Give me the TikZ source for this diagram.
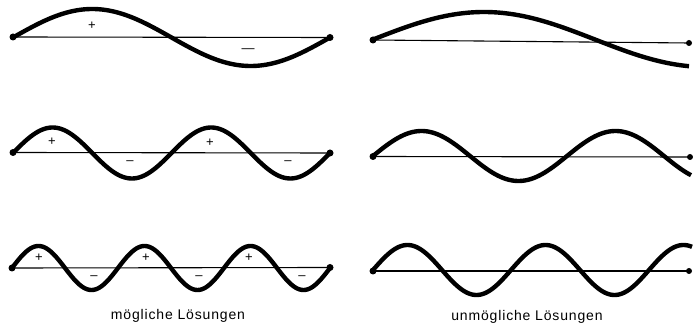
\documentclass[tikz,border=0pt]{standalone}
\usepackage{fontspec}
\setmainfont{Liberation Sans}
\newfontfamily\lblfont[LetterSpace=6]{Liberation Sans}
\begin{document}
\begin{tikzpicture}[x=1pt,y=-1pt,
  wave/.style={line width=4.4pt, line cap=round, line join=round},
  axisline/.style={line width=1.1pt},
  enddot/.style={circle, fill, inner sep=0pt, minimum size=7pt},
  smalldot/.style={circle, fill, inner sep=0pt, minimum size=6pt},
  sign/.style={font=\fontsize{13}{13}\selectfont, inner sep=0pt, draw=none, text=black},
  caption/.style={font=\lblfont\fontsize{14}{16}\selectfont, inner sep=0pt}]
\useasboundingbox (0,0) rectangle (693,328);

% ---------- left column: possible solutions ----------
% row 1
\node[enddot] (la1) at (13,37) {};
\node[enddot] (lb1) at (330,37.5) {};
\draw[axisline] (la1.center) -- (lb1.center);
\draw[wave] plot[domain=13:330, samples=120, smooth] (\x, {37.5 - 28.5*sin((\x-13)/317*360)});
\node[sign] (p11) at (92,26) {+};
\node[sign] (m11) at (248,51) {—};

% row 2
\node[enddot] (la2) at (13,152.5) {};
\node[enddot] (lb2) at (330,153) {};
\draw[axisline] (la2.center) -- (lb2.center);
\draw[wave] plot[domain=13:330, samples=160, smooth] (\x, {153 - 25.5*sin((\x-13)/158.5*360)});
\node[sign] (p21) at (52,142) {+};
\node[sign] (m21) at (130,163) {–};
\node[sign] (p22) at (210,143) {+};
\node[sign] (m22) at (288,163) {–};

% row 3
\node[enddot] (la3) at (12,268) {};
\node[enddot] (lb3) at (330,267.5) {};
\draw[axisline] (la3.center) -- (lb3.center);
\draw[wave] plot[domain=12:330, samples=200, smooth] (\x, {268 - 22*sin((\x-12)/106*360)});
\node[sign] (p31) at (39,258) {+};
\node[sign] (m31) at (94,278) {–};
\node[sign] (p32) at (146,258) {+};
\node[sign] (m32) at (199,278) {–};
\node[sign] (p33) at (249,258) {+};
\node[sign] (m33) at (302,278) {–};

\node[caption] (capL) at (178,316) {mögliche Lösungen};

% ---------- right column: impossible solutions ----------
% row 1
\node[enddot] (ra1) at (373,40) {};
\node[smalldot] (rb1) at (689,43) {};
\draw[axisline] (ra1.center) -- (rb1.center);
\draw[wave, line cap=butt] plot[domain=373:689, samples=120, smooth] (\x, {39.5 - 27.5*sin((\x-373)/444*360)});

% row 2
\node[enddot] (ra2) at (373,156.5) {};
\node[smalldot] (rb2) at (690,157) {};
\draw[axisline] (ra2.center) -- (rb2.center);
\draw[wave, line cap=butt] plot[domain=373:691, samples=160, smooth] (\x, {156 - 25*sin((\x-373)/194*360)});

% row 3
\node[enddot] (ra3) at (373,271) {};
\node[smalldot] (rb3) at (689,271) {};
\draw[axisline] (ra3.center) -- (rb3.center);
\draw[wave, line cap=butt] plot[domain=373:692, samples=200, smooth] (\x, {270 - 25*sin((\x-373)/138*360)});

\node[caption] (capR) at (527,317) {unmögliche Lösungen};
\end{tikzpicture}
\end{document}
